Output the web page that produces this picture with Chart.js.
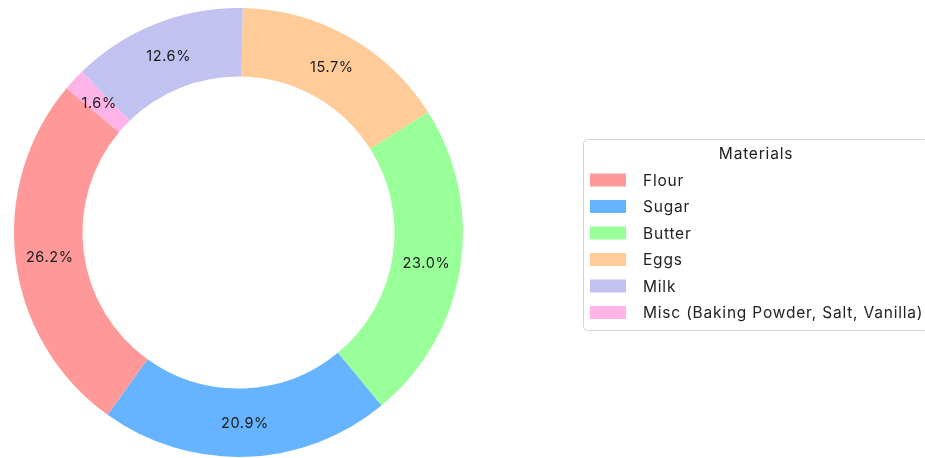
<!DOCTYPE html>
<html>
<head>
<meta charset="utf-8">
<script src="https://cdn.jsdelivr.net/npm/chart.js@4"></script>
<style>
  body { margin: 0; background: #fff; }
  #wrap { width: 925px; height: 458px; position: relative; }
</style>
</head>
<body>
<div id="wrap"><canvas id="pie"></canvas></div>
<script>
const materials = ["Flour", "Sugar", "Butter", "Eggs", "Milk", "Misc (Baking Powder, Salt, Vanilla)"];
const shares = [26.2, 20.9, 23.0, 15.7, 12.6, 1.6];
const colors = ["#ff9999", "#66b3ff", "#99ff99", "#ffcc99", "#c2c2f0", "#ffb3e6"];
const legendTitle = "Materials";

const FONT = "Inter, 'Open Sans', sans-serif";

// matplotlib draws counter-clockwise from 140deg; Chart.js goes clockwise,
// so feed the slices reversed
const order = materials.map((_, i) => i).reverse();

const pctLabels = {
  id: "pctLabels",
  afterDatasetsDraw(chart) {
    const ctx = chart.ctx;
    const meta = chart.getDatasetMeta(0);
    const data = chart.data.datasets[0].data;
    const total = data.reduce((a, b) => a + b, 0);
    ctx.save();
    ctx.font = "14.5px " + FONT;
    ctx.letterSpacing = "0.6px";
    ctx.fillStyle = "#1a1a1a";
    ctx.textAlign = "center";
    ctx.textBaseline = "middle";
    meta.data.forEach((arc, i) => {
      const p = arc.getCenterPoint();
      ctx.fillText((data[i] / total * 100).toFixed(1) + "%", p.x, p.y + 1);
    });
    ctx.restore();
  }
};

const boxLegend = {
  id: "boxLegend",
  afterDraw(chart) {
    const ctx = chart.ctx;
    const x = 583, y = 139, w = 345, h = 191;
    ctx.save();
    ctx.strokeStyle = "#d4d4d4";
    ctx.lineWidth = 1;
    ctx.beginPath();
    ctx.roundRect(x + 0.5, y + 0.5, w, h, 4);
    ctx.stroke();

    ctx.fillStyle = "#222";
    ctx.font = "15.5px " + FONT;
    ctx.letterSpacing = "0.8px";
    ctx.textAlign = "center";
    ctx.textBaseline = "middle";
    ctx.fillText(legendTitle, 756, 154);

    ctx.textAlign = "left";
    materials.forEach((name, i) => {
      const cy = 180 + i * 26.5;
      ctx.fillStyle = colors[i];
      ctx.fillRect(590, cy - 6.5, 36, 13);
      ctx.fillStyle = "#222";
      ctx.fillText(name, 643, cy + 1);
    });
    ctx.restore();
  }
};

new Chart(document.getElementById("pie"), {
  type: "doughnut",
  data: {
    labels: order.map(i => materials[i]),
    datasets: [{
      data: order.map(i => shares[i]),
      backgroundColor: order.map(i => colors[i]),
      borderWidth: 0
    }]
  },
  options: {
    responsive: true,
    maintainAspectRatio: false,
    animation: false,
    cutout: "69.5%",
    rotation: -50,
    layout: { padding: { left: 0, right: 448, top: 8, bottom: 1 } },
    plugins: {
      legend: { display: false },
      tooltip: { enabled: false }
    }
  },
  plugins: [pctLabels, boxLegend]
});
</script>
</body>
</html>
